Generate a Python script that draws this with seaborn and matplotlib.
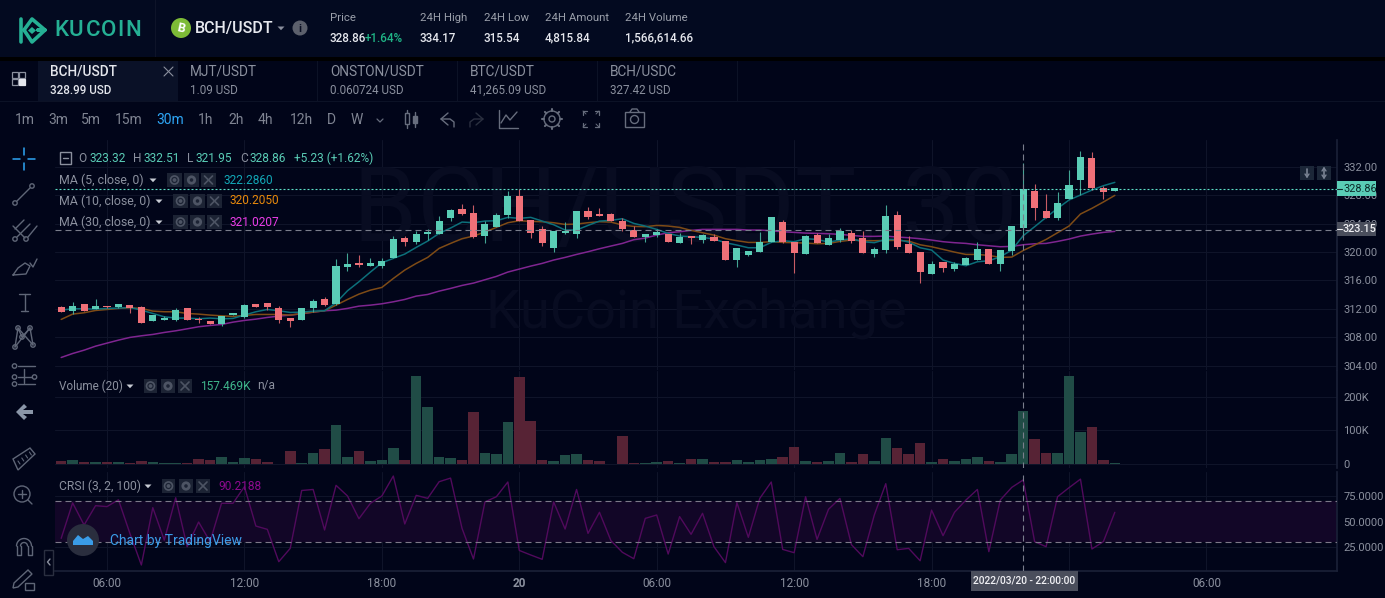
import numpy as np
import pandas as pd
import matplotlib
matplotlib.use('Agg')
import matplotlib.pyplot as plt
from matplotlib.patches import Rectangle, Circle, Polygon
import seaborn as sns

# candles, 30 min each
opens = [312.25,311.69,312.67,311.97,312.39,312.21,312.53,312.25,310.28,310.42,310.42,312.11,310.56,310.28,309.86,311.13,310.85,312.67,312.77,312.11,310.71,310.42,312.11,313.38,312.67,317.88,318.44,318.02,318.02,319.15,321.96,321.40,322.52,322.52,324.78,326.04,325.48,322.24,323.51,325.20,327.87,324.49,323.23,320.55,322.66,322.52,325.76,325.34,325.34,324.35,323.09,322.10,322.38,322.52,321.26,322.24,321.68,322.10,321.54,318.87,319.57,319.99,321.40,324.21,321.40,319.71,322.38,320.98,321.68,322.66,321.96,319.71,320.27,325.20,321.12,319.99,316.90,318.58,317.60,318.16,318.87,320.41,318.30,320.13,323.32,328.57,325.76,324.78,327.45,330.12,333.22,328.99,328.57]
closes = [311.55,312.39,311.69,312.39,312.25,312.67,312.16,310.00,311.13,310.71,311.83,310.42,310.47,309.86,310.99,311.41,312.53,312.25,312.25,310.42,310.28,312.11,313.10,312.53,318.02,318.30,318.16,318.44,318.73,321.82,321.40,322.52,322.81,324.35,325.90,325.34,322.10,323.93,325.20,327.87,324.35,322.66,321.26,322.95,322.95,325.76,324.92,325.06,324.35,323.23,322.10,322.52,322.81,321.40,322.10,321.96,322.38,321.54,318.87,320.55,320.13,321.40,324.92,321.40,319.85,322.24,321.26,321.96,322.95,321.54,319.85,320.41,325.06,320.69,319.85,317.18,318.30,317.74,318.30,319.15,320.41,318.30,320.27,323.65,328.86,326.18,324.78,326.89,329.42,333.36,328.99,328.43,328.95]
highs = [312.39,312.91,312.67,313.38,312.44,312.67,312.53,312.39,311.13,310.94,312.07,312.11,310.85,310.28,310.99,311.41,312.67,312.67,312.82,312.39,310.71,312.11,313.38,313.66,319.00,319.85,319.57,319.15,319.15,322.24,322.24,322.95,323.23,325.06,326.04,326.75,326.60,324.35,325.48,328.57,328.86,324.49,323.65,322.95,324.21,325.76,326.32,326.18,325.48,324.78,323.65,322.52,323.23,322.52,322.66,322.24,322.52,322.52,321.54,320.55,320.13,322.81,324.92,324.49,321.40,322.38,322.66,322.52,323.37,323.09,322.95,320.69,326.60,325.76,322.24,319.99,318.73,318.58,318.58,319.29,321.40,320.41,320.27,323.65,332.51,329.56,328.15,328.43,331.53,334.20,334.06,329.28,328.95]
lows = [311.55,311.31,311.69,311.97,312.16,312.11,311.46,310.00,310.28,310.42,310.28,310.42,310.00,309.86,309.63,311.08,310.71,312.25,311.88,310.00,309.44,310.42,311.55,312.39,312.53,317.32,317.88,318.02,317.74,319.15,320.84,321.12,321.68,322.52,324.35,325.20,321.96,321.26,323.51,324.78,324.35,321.96,320.84,319.99,322.52,321.96,324.63,325.06,324.35,322.95,322.10,321.40,322.10,321.40,321.26,321.12,321.26,321.54,318.87,317.88,319.43,319.99,321.40,321.26,317.04,319.71,321.26,320.98,321.40,321.26,319.85,319.29,319.85,320.41,319.85,315.63,316.90,317.18,317.32,318.16,318.87,318.30,317.32,319.57,321.95,324.49,324.78,324.49,327.45,328.01,328.71,327.45,328.57]

ma5 = [311.83,312.02,312.02,311.97,312.07,312.11,312.21,311.83,311.36,310.89,310.71,310.71,310.61,310.71,310.61,310.66,311.13,311.60,311.92,311.74,311.50,311.55,311.69,311.74,312.86,314.55,315.82,317.18,318.49,319.10,319.71,320.65,321.54,322.62,323.37,324.21,324.12,324.35,324.40,324.87,324.73,324.87,324.35,323.84,323.09,323.09,323.74,324.35,324.45,324.68,324.02,323.65,323.18,322.62,322.24,322.15,322.06,321.82,321.31,320.98,320.60,320.60,321.35,321.59,321.45,321.87,321.77,321.40,321.68,321.87,321.45,321.31,321.77,321.77,321.40,320.60,320.27,318.87,318.40,318.07,318.63,318.77,319.33,320.27,322.29,323.56,324.87,326.14,327.31,328.01,328.71,329.32,329.79]
ma10 = [310.52,311.27,311.46,311.78,311.92,312.07,312.16,312.07,311.69,311.60,311.60,311.36,311.27,311.13,311.03,310.94,311.08,311.22,311.22,311.22,311.13,311.36,311.55,311.74,312.53,313.33,314.08,314.64,315.02,316.28,317.46,318.40,319.24,320.51,321.21,321.87,322.24,322.81,323.46,324.12,324.40,324.31,324.26,324.12,323.88,323.93,324.12,324.26,324.21,323.79,323.60,323.56,323.74,323.65,323.46,323.04,322.71,322.38,321.87,321.59,321.35,321.35,321.45,321.35,321.31,321.26,321.16,321.21,321.49,321.68,321.59,321.59,321.63,321.63,321.54,321.02,320.74,320.37,319.99,319.66,319.66,319.52,319.24,319.29,320.21,320.98,321.77,322.71,323.65,325.34,326.14,327.03,327.96]
ma30 = [305.17,305.73,306.20,306.76,307.19,307.61,307.99,308.22,308.41,308.69,308.92,309.20,309.49,309.67,309.81,310.14,310.38,310.56,310.80,310.99,311.13,311.31,311.55,311.74,311.83,312.07,312.39,312.53,312.72,313.00,313.33,313.80,314.03,314.50,314.88,315.30,315.63,316.10,316.57,317.18,317.60,318.02,318.40,318.87,319.24,319.66,320.04,320.46,320.84,321.21,321.73,321.96,322.38,322.71,322.85,323.04,323.18,323.18,323.18,323.18,323.09,323.09,322.99,322.85,322.76,322.66,322.62,322.57,322.48,322.34,322.20,322.20,322.24,322.10,322.01,321.87,321.68,321.45,321.31,321.21,321.02,320.88,320.74,320.79,321.02,321.16,321.21,321.49,321.82,322.24,322.52,322.76,322.90]

volume = [9,12,6,6,6,6,3,9,6,3,3,3,15,12,21,6,18,15,6,1,38,3,33,44,115,21,38,9,12,47,12,260,168,21,18,12,154,33,30,124,257,127,12,9,27,30,12,9,1,84,3,3,6,9,3,15,15,6,6,12,6,12,15,21,50,9,6,9,33,6,30,9,77,47,30,62,6,15,9,15,21,9,6,30,157.469,74,33,33,260,95,109,12,3]
crsi = [33.7,68,46.6,65.3,64.4,71,38.5,7.9,63.4,32,73,25.6,49.5,30.5,67.6,67.6,83.7,45.6,42.4,11.1,24,80,81,41.8,85,74.7,52.7,67.6,74.7,94,47.6,75.3,72.4,88.5,92,43.4,13.7,68.9,74,88.2,22,17.6,13.4,68.9,42.7,81,38.5,58.9,31.5,20.2,14,53,56.3,18.5,54.7,37.6,57.9,25.6,10.2,68.2,34.7,72.4,88.2,23,19.8,74,32.7,61.8,72.4,27.6,16,56.3,86.6,22.7,24,12,61,36.3,58.9,70.8,81,20.8,70.8,83,90.22,30.5,25.6,74,82.7,91,23.4,30.5,58.9]

price_ticks = [304,308,312,316,320,324,328,332]
vol_ticks = [0,100,200]
crsi_ticks = [25,50,75]
time_ticks = [4,16,28,40,52,64,76,88,100]
time_labels = ['06:00','12:00','18:00','20','06:00','12:00','18:00','','06:00']
last_price = 328.86
cross_price = 323.15
cross_idx = 84

BG = '#010519'
HEAD = '#030a20'
GRID = '#0f1429'
UP = '#5acdb6'
DOWN = '#ef7078'
GREY = '#8b909e'
ICON = '#676d7d'
FONT = ['Roboto', 'DejaVu Sans']
DASH = (0, (5.4, 3.6))

sns.set_theme(style='dark', rc={'figure.facecolor': BG, 'axes.facecolor': BG})
plt.rcParams['font.family'] = FONT

df = pd.DataFrame({'i': range(len(opens)), 'open': opens, 'close': closes, 'high': highs, 'low': lows,
                   'ma5': ma5, 'ma10': ma10, 'ma30': ma30, 'volume': volume, 'crsi': crsi})
df['dir'] = np.where(df['close'] >= df['open'], 'up', 'down')

fig = plt.figure(figsize=(13.85, 5.98), dpi=100)
W, H = 1385.0, 598.0


def pane(top, bottom):
    ax = fig.add_axes([55 / W, 1 - bottom / H, (1337 - 55) / W, (bottom - top) / H])
    ax.set_facecolor(BG)
    for s in ax.spines.values():
        s.set_visible(False)
    ax.grid(True, color=GRID, lw=0.8)
    ax.set_axisbelow(True)
    ax.yaxis.tick_right()
    ax.tick_params(axis='y', length=0, labelcolor=GREY, labelsize=8, pad=4.5)
    ax.tick_params(axis='x', length=0, labelcolor=GREY, labelsize=8.5)
    return ax


ax1 = pane(140, 370)
ax2 = pane(371, 468)
ax3 = pane(472, 571)

# watermark sits behind the candles
ax1.text(0.2324, 0.687, 'BCH/USDT, 30', fontsize=74, color='#080c21', va='center', ha='left', zorder=1,
         transform=ax1.transAxes)
ax1.text(0.336, 0.248, 'KuCoin Exchange', fontsize=39, color='#080c21', va='center', ha='left', zorder=1,
         transform=ax1.transAxes)

# price pane
for col, c in [('ma30', '#7f2590'), ('ma10', '#7e4b16'), ('ma5', '#0c6f7a')]:
    sns.lineplot(data=df, x='i', y=col, color=c, lw=1.1, ax=ax1, zorder=2, legend=False)
wick_col = df['dir'].map({'up': '#43a594', 'down': '#c85c64'})
ax1.vlines(df['i'], df['low'], df['high'], colors=wick_col, lw=0.8, zorder=3)
ax1.bar(df['i'], (df['close'] - df['open']).abs(), bottom=df[['open', 'close']].min(axis=1), width=0.62,
        color=df['dir'].map({'up': UP, 'down': DOWN}), edgecolor='none', linewidth=0, zorder=4)
ax1.axhline(last_price, color='#5ee0c8', lw=0.8, ls=(0, (1.8, 1.8)), zorder=5)
ax1.axhline(cross_price, color='#7a7e8c', lw=0.8, ls=DASH, zorder=5)
ax1.set_ylim(303.41, 335.75)
ax1.set_yticks(price_ticks)
ax1.set_yticklabels([f'{v:.2f}' for v in price_ticks])

# volume pane
sns.barplot(data=df, x='i', y='volume', hue='dir', palette={'up': '#204c46', 'down': '#572335'}, native_scale=True,
            dodge=False, width=0.92, saturation=1, legend=False, errorbar=None, edgecolor='none', linewidth=0,
            ax=ax2, zorder=2)
ax2.set_ylim(-11.9, 276)
ax2.set_yticks(vol_ticks)
ax2.set_yticklabels(['0', '100K', '200K'])

# crsi pane
ax3.axhspan(30, 70, color='#120627', zorder=1, lw=0)
sns.lineplot(data=df, x='i', y='crsi', color='#510a5c', lw=1, ax=ax3, zorder=3, legend=False)
for lvl in (30, 70):
    ax3.axhline(lvl, color='#7c7888', lw=0.8, ls=DASH, zorder=4)
ax3.set_ylim(2.1, 97.9)
ax3.set_yticks(crsi_ticks)
ax3.set_yticklabels([f'{v:.4f}' for v in crsi_ticks])
ax3.spines['bottom'].set_visible(True)
ax3.spines['bottom'].set_color('#1a2036')

for ax in (ax1, ax2, ax3):
    ax.set_xlim(-0.54, 111.4)
    ax.set_xticks(time_ticks)
    ax.set_xlabel('')
    ax.set_ylabel('')
    ax.axvline(cross_idx, color='#7a7e8c', lw=0.8, ls=DASH, zorder=6)
    ax.spines['right'].set_visible(True)
    ax.spines['right'].set_color('#1a2036')
ax1.set_xticklabels([])
ax2.set_xticklabels([])
ax3.set_xticklabels(time_labels)
ax3.tick_params(axis='x', pad=4)
for lab, t in zip(ax3.get_xticklabels(), time_labels):
    if t == '20':
        lab.set_fontweight('bold')

# everything around the chart is drawn on a full size layer in pixel coordinates
ui = fig.add_axes([0, 0, 1, 1], zorder=10)
ui.set_xlim(0, W)
ui.set_ylim(H, 0)
ui.axis('off')
ui.patch.set_alpha(0)


def txt(x, y, s, size=8.5, color='#a8adb8', ha='left', weight='normal', **kw):
    ui.text(x, y, s, fontsize=size, color=color, ha=ha, va='center', fontweight=weight, **kw)


def box(x0, y0, x1, y1, color, z=1):
    ui.add_patch(Rectangle((x0, y0), x1 - x0, y1 - y0, fc=color, ec='none', zorder=z))


def line(xs, ys, color=ICON, lw=1.0, z=3):
    ui.plot(xs, ys, color=color, lw=lw, zorder=z, solid_capstyle='round')


def caret(x, y, color='#c8ccd4', s=3.5):
    ui.add_patch(Polygon([(x - s, y - 1.5), (x + s, y - 1.5), (x, y + 2.2)], fc=color, ec='none', zorder=3))


def ring(x, y, r, color=ICON, lw=1.0, fc='none', z=3):
    ui.add_patch(Circle((x, y), r, fc=fc, ec=color, lw=lw, zorder=z))


def legend_btns(xs, y):
    for x0, x1 in xs:
        box(x0, y - 7, x1, y + 7, '#1c2334')
    c = '#4d5464'
    a, b, d = [(p[0] + p[1]) / 2 for p in xs]
    ring(a, y, 4, c, 1.2)
    ring(a, y, 1.2, c, 1, fc=c)
    ring(b, y, 3.2, c, 2)
    line([d - 4, d + 4], [y - 4, y + 4], c, 1.2)
    line([d - 4, d + 4], [y + 4, y - 4], c, 1.2)


# backgrounds of the header rows
box(0, 0, W, 57, HEAD)
box(0, 57, W, 61, '#000000')
box(0, 61, W, 101, BG)
box(38, 61, 178, 101, '#0a1127', z=2)
box(0, 101, W, 102, '#0c1226', z=2)
box(155, 0, 156, 57, '#0e1429', z=2)
for x in (317, 457, 597, 737):
    box(x, 61, x + 1, 101, '#0c1226', z=2)

# logo
teal = '#25b094'
line([21, 21], [19, 42], teal, 2.6)
line([24, 32, 45, 38, 45, 32, 24], [30, 19, 30, 30, 30, 42, 30], teal, 2.6)
ui.add_patch(Polygon([(32, 27), (36, 30.5), (32, 34), (28, 30.5)], fc=teal, ec='none', zorder=3))
for lx, letter in [(54.5, 'K'), (69, 'U'), (86, 'C'), (101, 'O'), (117, 'I'), (125, 'N')]:
    txt(lx, 30, letter, 16, teal, weight='medium')

ring(181, 28, 10, '#7dbb37', 0, fc='#7dbb37')
txt(181, 28.5, 'B', 9, 'white', ha='center', weight='bold', rotation=-12)
txt(195, 29, 'BCH/USDT', 11.5, '#e6e8ee', weight='medium')
caret(281, 28, '#8b909e')
ring(300, 28, 7.5, '#5c606c', 0, fc='#5c606c')
txt(300, 28.5, 'i', 8, '#0b1024', ha='center', weight='bold')

for x, head, val in [(330, 'Price', '328.86'), (420, '24H High', '334.17'), (484, '24H Low', '315.54'),
                     (545, '24H Amount', '4,815.84'), (625, '24H Volume', '1,566,614.66')]:
    txt(x, 18, head, 8.2, '#9a9faa')
    txt(x, 38, val, 8.4, '#e6e8ee', weight='medium')
txt(365, 38, '+1.64%', 8.4, '#1fb486', weight='medium')

# tabs
for x, a, b in [(50, 'BCH/USDT', '328.99 USD'), (190, 'MJT/USDT', '1.09 USD'), (330, 'ONSTON/USDT', '0.060724 USD'),
                (470, 'BTC/USDT', '41,265.09 USD'), (610, 'BCH/USDC', '327.42 USD')]:
    active = x == 50
    txt(x, 72, a, 9.8, '#e4e6ec' if active else '#8b909e', weight='medium' if active else 'normal')
    txt(x, 90, b, 8.4, '#e4e6ec' if active else '#8b909e', weight='medium' if active else 'normal')
line([164, 173], [67, 76], '#8b909e', 0.8)
line([164, 173], [76, 67], '#8b909e', 0.8)
for bx, by, c in [(12, 72, '#8b909e'), (19, 72, '#8b909e'), (12, 79, '#8b909e'), (19, 79, '#e4e6ec')]:
    ui.add_patch(Rectangle((bx, by), 6, 6, fc=c if c != '#8b909e' else 'none', ec=c, lw=0.9, zorder=3))

# interval bar
for x, s in [(15, '1m'), (48, '3m'), (81, '5m'), (115, '15m'), (198, '1h'), (228, '2h'), (258, '4h'), (290, '12h'),
             (327, 'D'), (351, 'W')]:
    txt(x, 120, s, 10, '#7f8492')
txt(156, 120, '30m', 10, '#2ea6f5')
line([377, 380, 383], [119, 122, 119], ICON, 0.9)
# candle icon
line([407, 407], [110, 128], ICON, 1)
ui.add_patch(Rectangle((405, 113), 4, 11, fc=BG, ec=ICON, lw=1, zorder=5))
line([415, 415], [112, 127], ICON, 1)
ui.add_patch(Rectangle((413, 116), 4, 7, fc=ICON, ec=ICON, lw=1, zorder=5))
# undo, redo
line([448, 441, 448], [113, 119, 125], ICON, 1)
line([441, 450, 454, 454], [119, 119, 122, 127], ICON, 1)
line([476, 483, 476], [113, 119, 125], '#2b3040', 1)
line([483, 474, 470, 470], [119, 119, 122, 127], '#2b3040', 1)
# indicators
line([499, 499, 518], [110, 128, 128], ICON, 1)
line([501, 506, 510, 517], [123, 115, 120, 112], ICON, 1)
# settings
ring(552, 119, 8, ICON, 1)
ring(552, 119, 3, ICON, 1)
for a in np.arange(0, 360, 45):
    ca, sa = np.cos(np.radians(a)), np.sin(np.radians(a))
    line([552 + 8 * ca, 552 + 10 * ca], [119 + 8 * sa, 119 + 10 * sa], ICON, 1.5)
# fullscreen
for sx, sy in [(-1, -1), (1, -1), (-1, 1), (1, 1)]:
    cx, cy = 591 + sx * 8, 119 + sy * 8
    line([cx, cx - sx * 4], [cy, cy], ICON, 0.9)
    line([cx, cx], [cy, cy - sy * 4], ICON, 0.9)
    line([cx, cx - sx * 3], [cy, cy - sy * 3], ICON, 0.7)
# camera
ui.add_patch(Rectangle((625, 112), 19, 15, fc='none', ec=ICON, lw=1, zorder=3))
line([630, 632, 637, 639], [112, 109, 109, 112], ICON, 1)
ring(634.5, 119.5, 4, ICON, 1)

# left tools
c = '#5f6677'
line([24, 24], [148, 155], '#2ea6f5', 1.1)
line([24, 24], [163, 170], '#2ea6f5', 1.1)
line([13, 20], [159, 159], '#2ea6f5', 1.1)
line([28, 35], [159, 159], '#2ea6f5', 1.1)
ring(15, 203, 2.2, c)
ring(32, 186, 2.2, c)
line([17, 30], [201, 188], c)
for x0 in (15, 26):
    ring(x0, 239, 2.2, c)
line([15, 24], [229, 220], c)
line([17, 30], [237, 224], c)
line([28, 37], [237, 226], c)
line([13, 25], [226, 238], c)
line([13, 18, 25, 30, 26, 13], [275, 268, 263, 266, 274, 275], c)
line([30, 33, 37], [263, 267, 259], c)
line([19, 30], [294, 294], c)
line([24.5, 24.5], [294, 311], c)
line([21, 28], [311, 311], c)
for px, py in [(18, 328), (30, 328), (22, 337), (15, 347), (33, 345)]:
    ring(px, py, 2.2, c)
line([15, 18, 22, 30, 33], [347, 328, 337, 328, 345], c)
line([18, 33], [328, 345], c)
line([30, 15], [328, 347], c)
for yy, x0, x1 in [(366, 18, 35), (377, 18, 32), (384, 18, 35)]:
    line([x0, x1], [yy, yy], c)
    ring(14.5, yy, 2.2, c)
ring(34.5, 377, 2.2, c)
line([24, 24], [369, 383], c)
# back arrow
ui.add_patch(Polygon([(16, 412), (24, 404), (27, 407), (23, 410), (33, 410), (33, 414), (23, 414), (27, 417), (24, 420)],
                     fc='#8a96a8', ec='none', zorder=3))
ui.add_patch(Polygon([(13, 459), (30, 448), (35, 454), (18, 470)], fc='none', ec=c, lw=1, zorder=3))
for k in range(4):
    line([18 + 3.8 * k, 20 + 3.8 * k], [461 - 3 * k, 464 - 3 * k], c, 0.8)
ring(22, 494, 8, c)
line([28, 32], [500, 504], c)
line([18, 26], [494, 494], c)
line([22, 22], [490, 498], c)
th = np.linspace(np.pi, 2 * np.pi, 20)
line(24 + 7.5 * np.cos(th), 546 + 7.5 * np.sin(th), c)
line(24 + 3.5 * np.cos(th), 546 + 3.5 * np.sin(th), c)
line([16.5, 16.5, 20.5, 20.5], [546, 555, 555, 546], c)
line([27.5, 27.5, 31.5, 31.5], [546, 555, 555, 546], c)
ui.add_patch(Polygon([(14, 583), (28, 570), (32, 574), (18, 587), (13, 588)], fc='none', ec=c, lw=1, zorder=3))
ui.add_patch(Rectangle((25, 583), 9, 7, fc=BG, ec=c, lw=1, zorder=3))
ui.add_patch(Rectangle((44, 550), 9, 25, fc=BG, ec='#2a2f40', lw=1, zorder=3))
line([50, 47.5, 50], [559, 562, 565], '#8b909e')

# legend of the price pane
ui.add_patch(Rectangle((60, 152), 11, 12, fc='none', ec=GREY, lw=1, zorder=3))
line([63, 68], [158, 158], GREY)
for x, name, xv, val in [(78, 'O', 89, '323.32'), (133, 'H', 143, '332.51'), (187, 'L', 196, '321.95'),
                         (240, 'C', 249, '328.86')]:
    txt(x, 158, name, 8.6, GREY)
    txt(xv, 158, val, 8.6, UP)
txt(294, 158, '+5.23 (+1.62%)', 8.6, UP)
for y, name, cx, bx, xv, val, col in [
    (180, 'MA (5, close, 0)', 153, [(167, 182), (184, 199), (201, 216)], 223, '322.2860', '#12a7b6'),
    (201, 'MA (10, close, 0)', 159, [(173, 188), (190, 205), (207, 222)], 229, '320.2050', '#e8890c'),
    (222, 'MA (30, close, 0)', 159, [(173, 188), (190, 205), (207, 222)], 229, '321.0207', '#e93ce6')]:
    txt(59, y, name, 8.9, GREY)
    caret(cx, y)
    legend_btns(bx, y)
    txt(xv, y, val, 8.6, col)

txt(59, 386, 'Volume (20)', 8.5, GREY)
caret(130, 386)
legend_btns([(144, 157), (161, 175), (178, 192)], 386)
txt(200, 386, '157.469K', 8.6, '#3fb68b')
txt(257, 386, 'n/a', 8.6, GREY)

txt(59, 486, 'CRSI (3, 2, 100)', 8.7, GREY)
caret(148, 486)
legend_btns([(162, 175), (179, 193), (196, 210)], 486)
txt(218, 486, '90.2188', 8.6, '#8e0a8e')

# tradingview badge
ring(83, 540, 16, '#2a2e3e', 0, fc='#2a2e3e')
ui.add_patch(Polygon([(73, 545), (73, 541), (78, 535), (83, 539), (88, 536), (93, 541), (93, 545)], fc='#3a9ce8',
                     ec='none', zorder=4))
txt(110, 541, 'Chart by TradingView', 10, '#3a9ce8')

# price boxes
box(1337, 181, 1376, 196, UP, z=4)
txt(1343, 188.5, '328.86', 7.8, '#0c2a2a', zorder=5)
box(1337, 222, 1376, 236, '#4a4e5c', z=4)
txt(1343, 229, '323.15', 7.8, '#f0f0f4', zorder=5, weight='medium')
line([1337, 1342], [188.6, 188.6], '#0c2a2a', 0.8, z=5)
line([1337, 1342], [229, 229], '#f0f0f4', 0.8, z=5)

# scale buttons
for x0 in (1300, 1317):
    box(x0, 166, x0 + 14, 180, '#1c2738')
line([1307, 1307], [169, 177], '#7b8494', 1.2, z=4)
line([1324, 1324], [168, 178], '#7b8494', 1.2, z=4)
line([1305, 1307, 1309], [174, 177, 174], '#7b8494', 1, z=4)
line([1322, 1324, 1326], [171, 168, 171], '#7b8494', 1, z=4)
line([1322, 1324, 1326], [175, 178, 175], '#7b8494', 1, z=4)

# crosshair time tag
box(971, 571, 1078, 591, '#4a4e5c', z=4)
txt(1024.5, 581, '2022/03/20 - 22:00:00', 7.4, '#f0f0f4', ha='center', zorder=5, weight='medium')

fig.savefig('out.png', dpi=100, facecolor=BG)
